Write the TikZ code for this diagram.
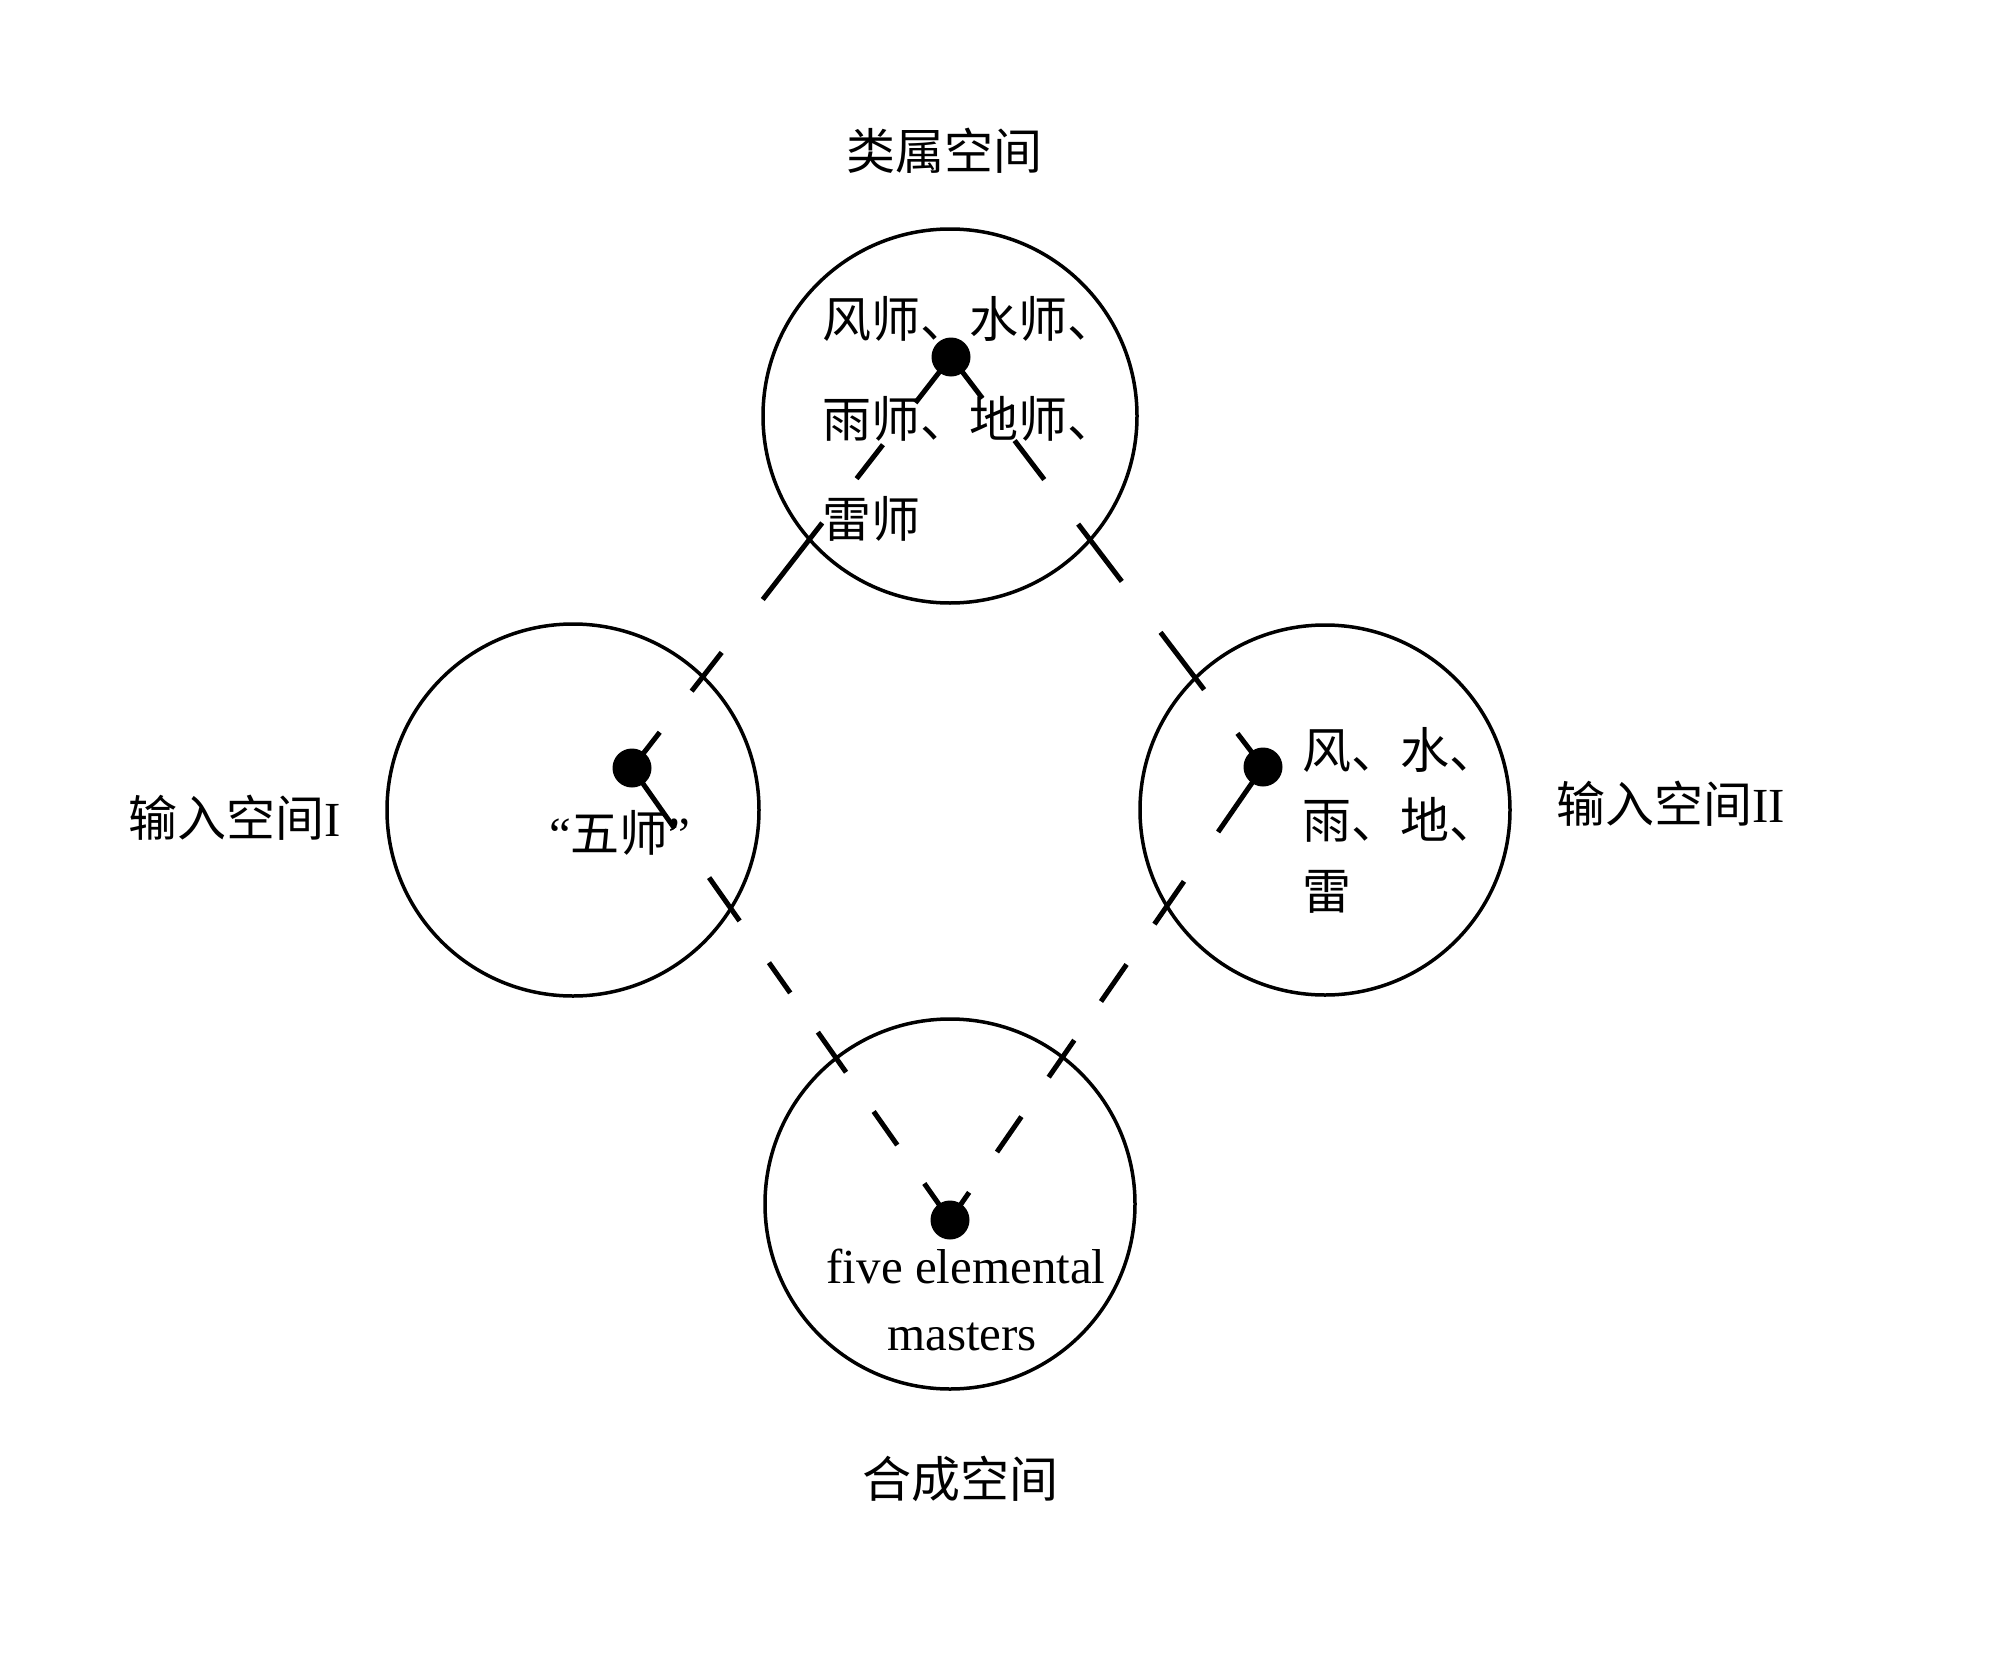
\documentclass[tikz,border=0pt]{standalone}
\usepackage{fontspec}
\setmainfont{Liberation Serif}
\newfontfamily\cjk{Noto Sans CJK SC}
\tikzset{
  space/.style={circle, draw, line width=3.5pt, inner sep=0pt, minimum size=372pt},
  dotnode/.style={circle, fill=black, inner sep=0pt, minimum size=39pt},
  link/.style={line width=5pt},
  txt/.style={inner sep=0pt, font=\fontsize{49}{59}\selectfont},
  dTL/.style={dash pattern=on 58pt off 53pt on 43pt off 56pt on 97pt off 67pt on 49pt off 52pt on 60pt off 200pt},
  dTR/.style={dash pattern=on 52pt off 53pt on 49pt off 56pt on 72pt off 64pt on 72pt off 55pt on 60pt off 200pt},
  dLB/.style={dash pattern=on 74pt off 60pt on 53pt off 51pt on 37pt off 48pt on 49pt off 48pt on 41pt off 47pt on 60pt off 200pt},
  dRB/.style={dash pattern=on 79pt off 60pt on 52pt off 49pt on 45pt off 47pt on 45pt off 48pt on 43pt off 49pt on 60pt off 200pt}
}
\begin{document}
\begin{tikzpicture}[x=1pt,y=-1pt]
\useasboundingbox (0,0) rectangle (2000,1659);
% circles
\node[space, minimum size=374pt] (cT) at (950,416) {};
\node[space] (cL) at (573,810) {};
\node[space, minimum size=370pt] (cR) at (1325,810) {};
\node[space, minimum size=370pt] (cB) at (950,1204) {};
% dots
\coordinate (pT) at (951,357);
\coordinate (pL) at (632,768);
\coordinate (pR) at (1263,767);
\coordinate (pB) at (950,1220);
% dashed links
\draw[link, dTL] (pT) -- (pL);
\draw[link, dTR] (pT) -- (pR);
\draw[link, dLB] (pL) -- (pB);
\draw[link, dRB] (pR) -- (pB);
\node[dotnode] (dT) at (pT) {};
\node[dotnode] (dL) at (pL) {};
\node[dotnode] (dR) at (pR) {};
\node[dotnode] (dB) at (pB) {};
% titles
\node[txt, anchor=base] (tT) at (944,169) {\cjk 类属空间};
\node[txt, anchor=base west] (tL) at (128,836) {{\cjk 输入空间}I};
\node[txt, anchor=base west] (tR) at (1556,822) {{\cjk 输入空间}II};
\node[txt, anchor=base] (tB) at (960,1497) {\cjk 合成空间};
% top circle text
\node[txt, anchor=base west] (a1) at (822,337) {\cjk 风师、水师、};
\node[txt, anchor=base west] (a2) at (822,437) {\cjk 雨师、地师、};
\node[txt, anchor=base west] (a3) at (822,537) {\cjk 雷师};
% left circle text
\node[txt, anchor=base west] (b1) at (549,851) {“{\cjk 五师}”};
% right circle text
\node[txt, anchor=base west] (c1) at (1302,768) {\cjk 风、水、};
\node[txt, anchor=base west] (c2) at (1302,838) {\cjk 雨、地、};
\node[txt, anchor=base west] (c3) at (1302,909) {\cjk 雷};
% bottom circle text
\node[txt, anchor=base] (e1) at (966,1283) {five elemental};
\node[txt, anchor=base] (e2) at (962,1350) {masters};
\end{tikzpicture}
\end{document}
